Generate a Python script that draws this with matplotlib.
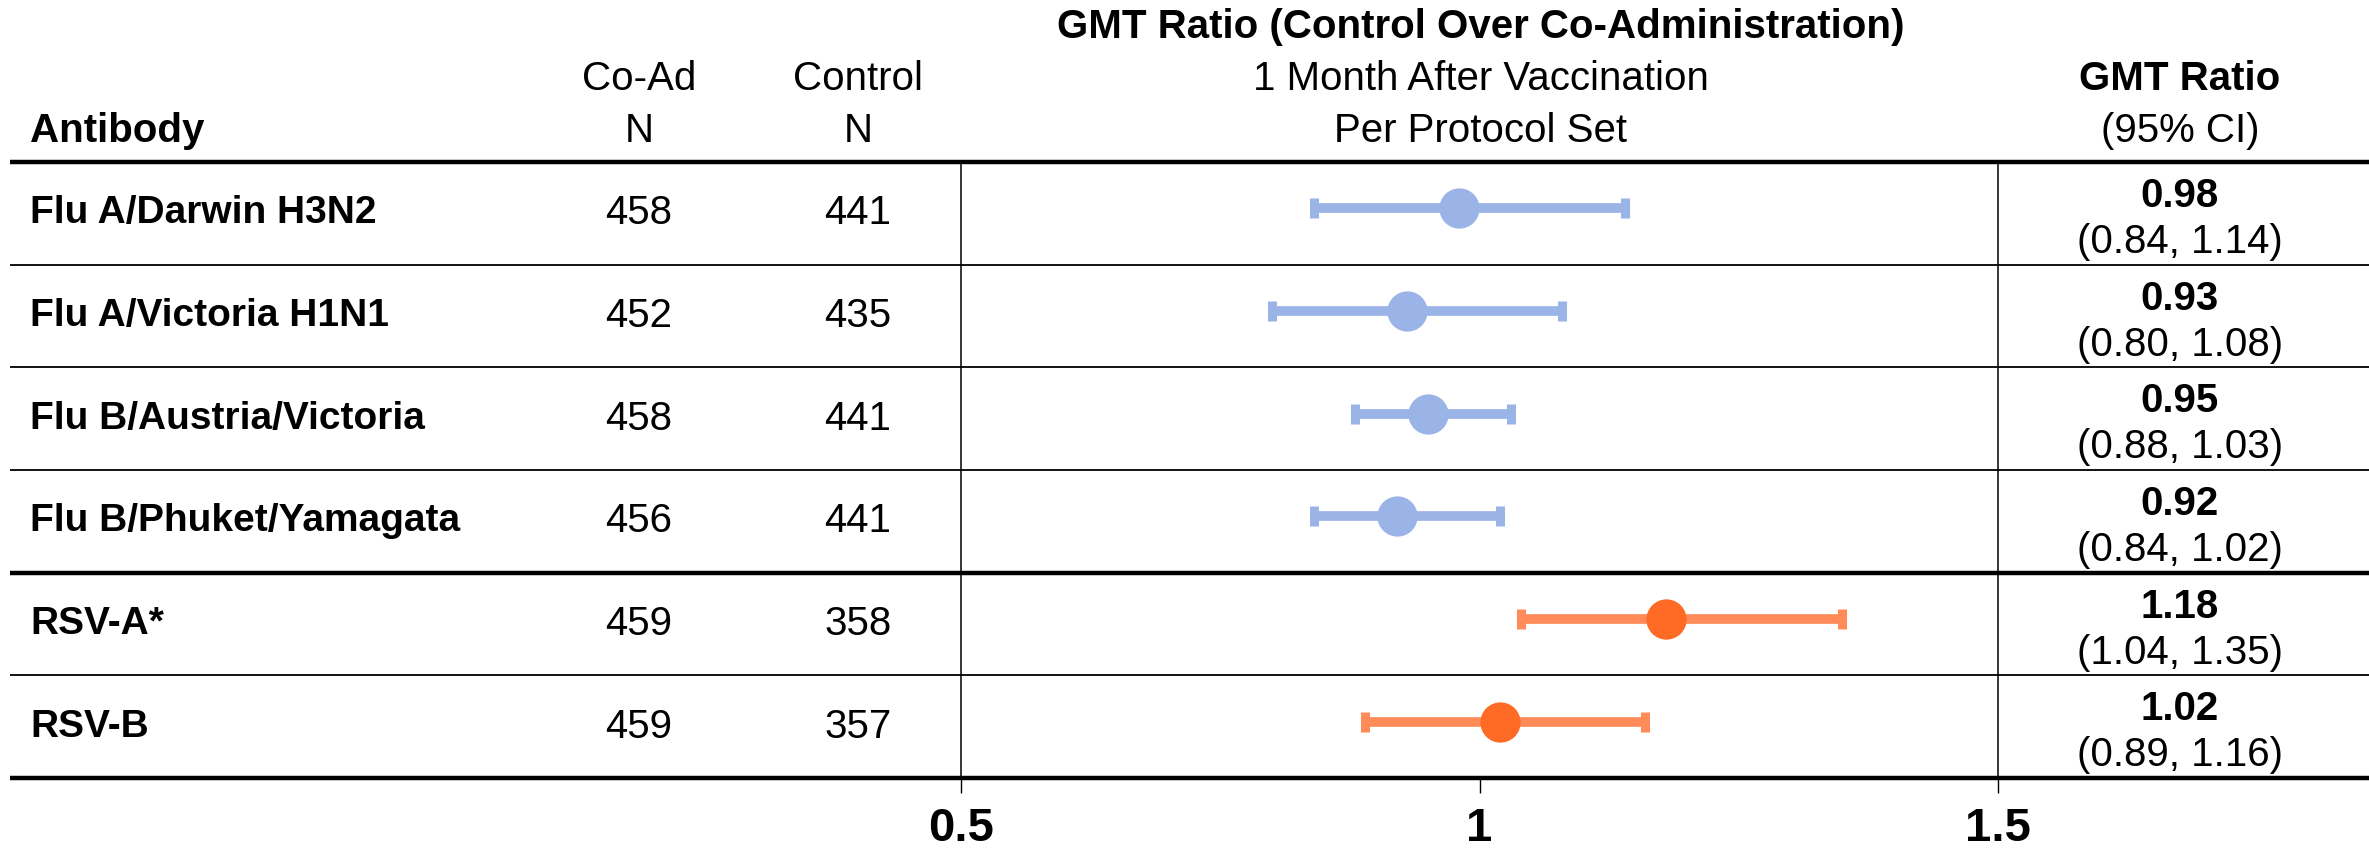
import matplotlib
matplotlib.use("Agg")
import matplotlib.pyplot as plt
from matplotlib.transforms import blended_transform_factory

plt.rcParams['font.family'] = ['Liberation Sans', 'DejaVu Sans']

# data
antibodies = ['Flu A/Darwin H3N2', 'Flu A/Victoria H1N1', 'Flu B/Austria/Victoria',
              'Flu B/Phuket/Yamagata', 'RSV-A*', 'RSV-B']
coad_n = [458, 452, 458, 456, 459, 459]
control_n = [441, 435, 441, 441, 358, 357]
gmr = [0.98, 0.93, 0.95, 0.92, 1.18, 1.02]
ci_low = [0.84, 0.80, 0.88, 0.84, 1.04, 0.89]
ci_high = [1.14, 1.08, 1.03, 1.02, 1.35, 1.16]
groups = ['flu', 'flu', 'flu', 'flu', 'rsv', 'rsv']
xticks = [0.5, 1, 1.5]

bar_col = {'flu': '#9bb4e8', 'rsv': '#ff8c58'}
dot_col = {'flu': '#9bb4e8', 'rsv': '#ff6a24'}

W, H = 2369, 857
fig = plt.figure(figsize=(W / 100, H / 100), dpi=100)

# forest plot axes (pixel box of the plot column)
x0, x1 = 961, 1998
ytop, ybot = 162, 778
ax = fig.add_axes([x0 / W, 1 - ybot / H, (x1 - x0) / W, (ybot - ytop) / H])
ax.set_xlim(0.5, 1.5)
ax.set_ylim(len(antibodies), 0)
ax.set_yticks([])
ax.set_xticks(xticks)
ax.set_xticklabels(['0.5', '1', '1.5'], fontsize=34, fontweight='bold')
ax.tick_params(axis='x', length=11, width=1, pad=10)
for s in ['top', 'bottom']:
    ax.spines[s].set_visible(False)
for s in ['left', 'right']:
    ax.spines[s].set_linewidth(1.1)

for i in range(len(antibodies)):
    y = i + 0.45
    g = groups[i]
    ax.errorbar(gmr[i], y, xerr=[[gmr[i] - ci_low[i]], [ci_high[i] - gmr[i]]],
                fmt='none', ecolor=bar_col[g], elinewidth=7, capsize=7.5, capthick=6.5)
    ax.plot(gmr[i], y, 'o', color=dot_col[g], markersize=29, markeredgewidth=0)

# table text and rules
tr = blended_transform_factory(fig.transFigure, ax.transData)
lx0 = 10 / W
for b in range(len(antibodies) + 1):
    if b in (0, 4, len(antibodies)):
        lw = 3.2
    else:
        lw = 1.3
    ax.plot([lx0, 1], [b, b], color='black', lw=lw, transform=tr, clip_on=False,
            solid_capstyle='butt')

for i in range(len(antibodies)):
    ax.text(30 / W, i + 0.5, antibodies[i], transform=tr, fontsize=28,
            fontweight='bold', ha='left', va='center')
    ax.text(639 / W, i + 0.5, str(coad_n[i]), transform=tr, fontsize=29,
            ha='center', va='center')
    ax.text(858 / W, i + 0.5, str(control_n[i]), transform=tr, fontsize=29,
            ha='center', va='center')
    ax.text(2180 / W, i + 0.33, '%.2f' % gmr[i], transform=tr, fontsize=29,
            fontweight='bold', ha='center', va='center')
    ax.text(2180 / W, i + 0.78, '(%.2f, %.2f)' % (ci_low[i], ci_high[i]),
            transform=tr, fontsize=29, ha='center', va='center')

# header
def fy(px):
    return 1 - px / H

fig.text(1481 / W, fy(27), 'GMT Ratio (Control Over Co-Administration)',
         fontsize=29, fontweight='bold', ha='center', va='center')
fig.text(1481 / W, fy(79), '1 Month After Vaccination', fontsize=29,
         ha='center', va='center')
fig.text(1481 / W, fy(131), 'Per Protocol Set', fontsize=29, ha='center', va='center')
fig.text(30 / W, fy(131), 'Antibody', fontsize=29, fontweight='bold',
         ha='left', va='center')
fig.text(639 / W, fy(79), 'Co-Ad', fontsize=29, ha='center', va='center')
fig.text(639 / W, fy(131), 'N', fontsize=29, ha='center', va='center')
fig.text(858 / W, fy(79), 'Control', fontsize=29, ha='center', va='center')
fig.text(858 / W, fy(131), 'N', fontsize=29, ha='center', va='center')
fig.text(2180 / W, fy(79), 'GMT Ratio', fontsize=29, fontweight='bold',
         ha='center', va='center')
fig.text(2180 / W, fy(131), '(95% CI)', fontsize=29, ha='center', va='center')

fig.savefig('out.png', dpi=100)
